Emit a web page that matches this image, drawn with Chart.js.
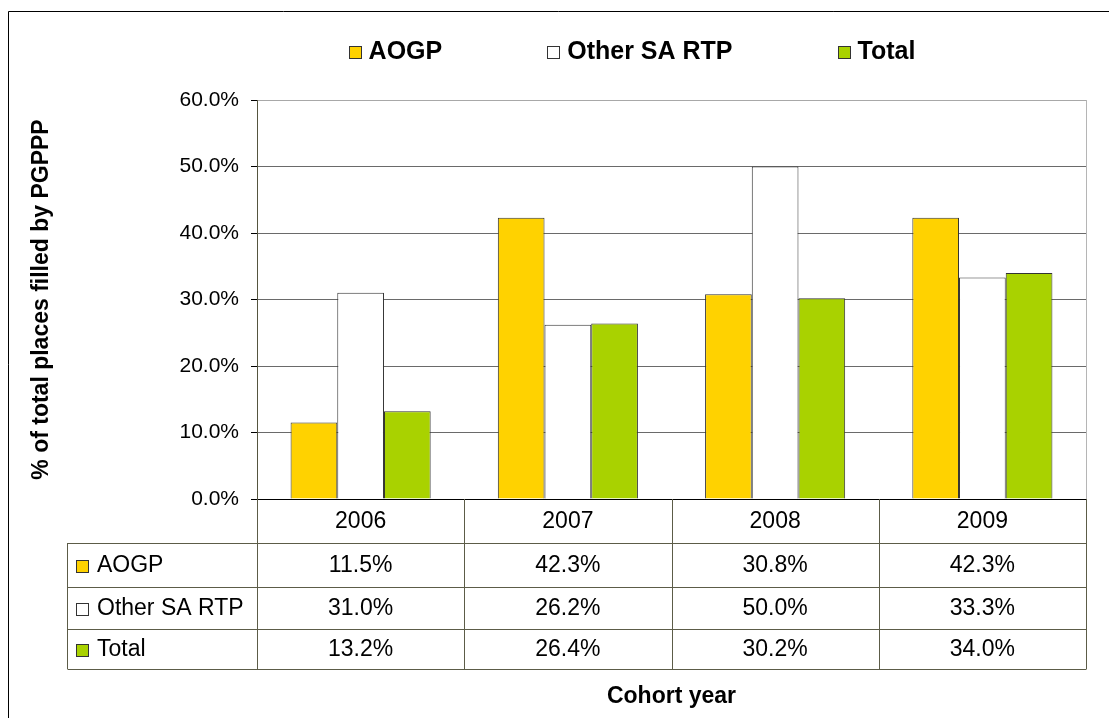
<!DOCTYPE html>
<html><head><meta charset="utf-8">
<script src="https://cdn.jsdelivr.net/npm/chart.js@4"></script>
<style>html,body{margin:0;padding:0;background:#fff}canvas{display:block}</style>
</head><body>
<canvas id="c" width="1109" height="718"></canvas>
<script>
const categories = ['2006', '2007', '2008', '2009'];
const seriesNames = ['AOGP', 'Other SA RTP', 'Total'];
const aogpValues = [11.5, 42.3, 30.8, 42.3];
const otherSaRtpValues = [31.0, 26.2, 50.0, 33.3];
const totalValues = [13.2, 26.4, 30.2, 34.0];
const yAxisMin = 0, yAxisMax = 60, yAxisStep = 10;
const seriesColors = ['#FFD200', '#FFFFFF', '#A9D200'];
const yTitle = '% of total places filled by PGPPP';
const xTitle = 'Cohort year';

const FONT = "'Liberation Sans', Arial, sans-serif";
Chart.defaults.font.family = FONT;
Chart.defaults.color = '#000';
const LINE = '#5c5c48';

const framePlugin = {
  id: 'frame',
  beforeDraw(chart) {
    const ctx = chart.ctx;
    ctx.save();
    ctx.fillStyle = '#fff';
    ctx.fillRect(0, 0, chart.width, chart.height);
    ctx.strokeStyle = '#000';
    ctx.lineWidth = 1;
    ctx.beginPath();
    ctx.moveTo(8.5, chart.height);
    ctx.lineTo(8.5, 11.5);
    ctx.lineTo(chart.width, 11.5);
    ctx.stroke();
    ctx.restore();
  },
  afterDatasetsDraw(chart) {
    const ctx = chart.ctx, a = chart.chartArea;
    ctx.save();
    ctx.strokeStyle = '#b5b5b5';
    ctx.lineWidth = 1;
    ctx.beginPath();
    ctx.moveTo(Math.round(a.right) + 0.5, a.top);
    ctx.lineTo(Math.round(a.right) + 0.5, a.bottom);
    ctx.stroke();
    ctx.restore();
  }
};

const legendPlugin = {
  id: 'customLegend',
  afterDraw(chart) {
    const ctx = chart.ctx;
    ctx.save();
    ctx.font = 'bold 25px ' + FONT;
    const box = 12, gapBoxText = 8, gapItems = 105;
    const ds = chart.data.datasets;
    const widths = ds.map(d => box + gapBoxText + ctx.measureText(d.label).width);
    const totalW = widths.reduce((s, w) => s + w, 0) + gapItems * (widths.length - 1);
    let x = 632 - totalW / 2;
    const cy = 52;
    ds.forEach((d, i) => {
      ctx.fillStyle = d.backgroundColor;
      ctx.fillRect(Math.round(x) + 0.5, cy - 6 + 0.5, box, box);
      ctx.strokeStyle = '#333';
      ctx.lineWidth = 1;
      ctx.strokeRect(Math.round(x) + 0.5, cy - 6 + 0.5, box, box);
      ctx.fillStyle = '#000';
      ctx.textBaseline = 'middle';
      ctx.textAlign = 'left';
      ctx.fillText(d.label, x + box + gapBoxText, cy);
      x += widths[i] + gapItems;
    });
    ctx.restore();
  }
};

const tablePlugin = {
  id: 'dataTable',
  afterDraw(chart) {
    const ctx = chart.ctx, a = chart.chartArea, xs = chart.scales.x;
    const n = chart.data.labels.length;
    const cw = (a.right - a.left) / n;
    const tableLeft = 67.5;
    const b = Math.round(a.bottom);
    const rows = [b, b + 44, b + 88, b + 130, b + 170];
    ctx.save();
    ctx.strokeStyle = LINE;
    ctx.lineWidth = 1;
    ctx.beginPath();
    for (let i = 0; i <= n; i++) {
      const x = Math.round(a.left + i * cw) + 0.5;
      ctx.moveTo(x, b);
      ctx.lineTo(x, rows[rows.length - 1]);
    }
    ctx.moveTo(tableLeft, rows[1]);
    ctx.lineTo(tableLeft, rows[rows.length - 1]);
    for (let r = 1; r < rows.length; r++) {
      ctx.moveTo(tableLeft, rows[r] + 0.5);
      ctx.lineTo(Math.round(a.right) + 0.5, rows[r] + 0.5);
    }
    ctx.stroke();

    ctx.fillStyle = '#000';
    ctx.font = '23px ' + FONT;
    ctx.textBaseline = 'middle';
    ctx.textAlign = 'center';
    chart.data.labels.forEach((lab, i) => {
      ctx.fillText(lab, xs.getPixelForValue(i), (rows[0] + rows[1]) / 2 + 1);
    });
    chart.data.datasets.forEach((d, r) => {
      const cy = (rows[r + 1] + rows[r + 2]) / 2 + 1;
      ctx.textAlign = 'center';
      ctx.fillStyle = '#000';
      d.data.forEach((v, i) => {
        ctx.fillText(v.toFixed(1) + '%', xs.getPixelForValue(i), cy);
      });
      ctx.fillStyle = d.backgroundColor;
      ctx.fillRect(76.5, Math.round(cy) - 6 + 0.5, 12, 12);
      ctx.strokeStyle = '#333';
      ctx.strokeRect(76.5, Math.round(cy) - 6 + 0.5, 12, 12);
      ctx.fillStyle = '#000';
      ctx.textAlign = 'left';
      ctx.fillText(d.label, 97, cy);
    });
    ctx.restore();
  }
};

const values = [aogpValues, otherSaRtpValues, totalValues];

new Chart(document.getElementById('c'), {
  type: 'bar',
  data: {
    labels: categories,
    datasets: seriesNames.map((name, i) => ({
      label: name,
      data: values[i],
      backgroundColor: seriesColors[i],
      borderColor: '#333',
      borderWidth: 1,
      categoryPercentage: 0.676,
      barPercentage: 1
    }))
  },
  options: {
    responsive: false,
    animation: false,
    devicePixelRatio: 1,
    layout: { padding: { left: 25, right: 23, top: 100, bottom: 8 } },
    plugins: { legend: { display: false }, tooltip: { enabled: false } },
    scales: {
      x: {
        ticks: { display: false },
        grid: { display: false, drawTicks: false },
        border: { display: true, color: '#000', width: 1 },
        title: { display: true, text: xTitle, font: { size: 23, weight: 'bold' }, padding: { top: 0, bottom: 0 } },
        afterFit: s => { s.height = 211; }
      },
      y: {
        min: yAxisMin, max: yAxisMax,
        ticks: { stepSize: yAxisStep, callback: v => Number(v).toFixed(1) + '%', font: { size: 21 }, color: '#000', padding: 12 },
        grid: {
          color: c => (c.tick && c.tick.value === yAxisMax) ? '#a8a8a8' : (c.tick && c.tick.value === yAxisMin ? '#000' : '#6a6a6a'),
          tickColor: '#000',
          tickLength: 6,
          lineWidth: 1
        },
        border: { color: '#55553f', width: 1 },
        title: { display: true, text: yTitle, font: { size: 23, weight: 'bold' }, padding: { top: 3, bottom: 0 } },
        afterFit: s => { s.width = 232; }
      }
    }
  },
  plugins: [framePlugin, legendPlugin, tablePlugin]
});
</script>
</body></html>
